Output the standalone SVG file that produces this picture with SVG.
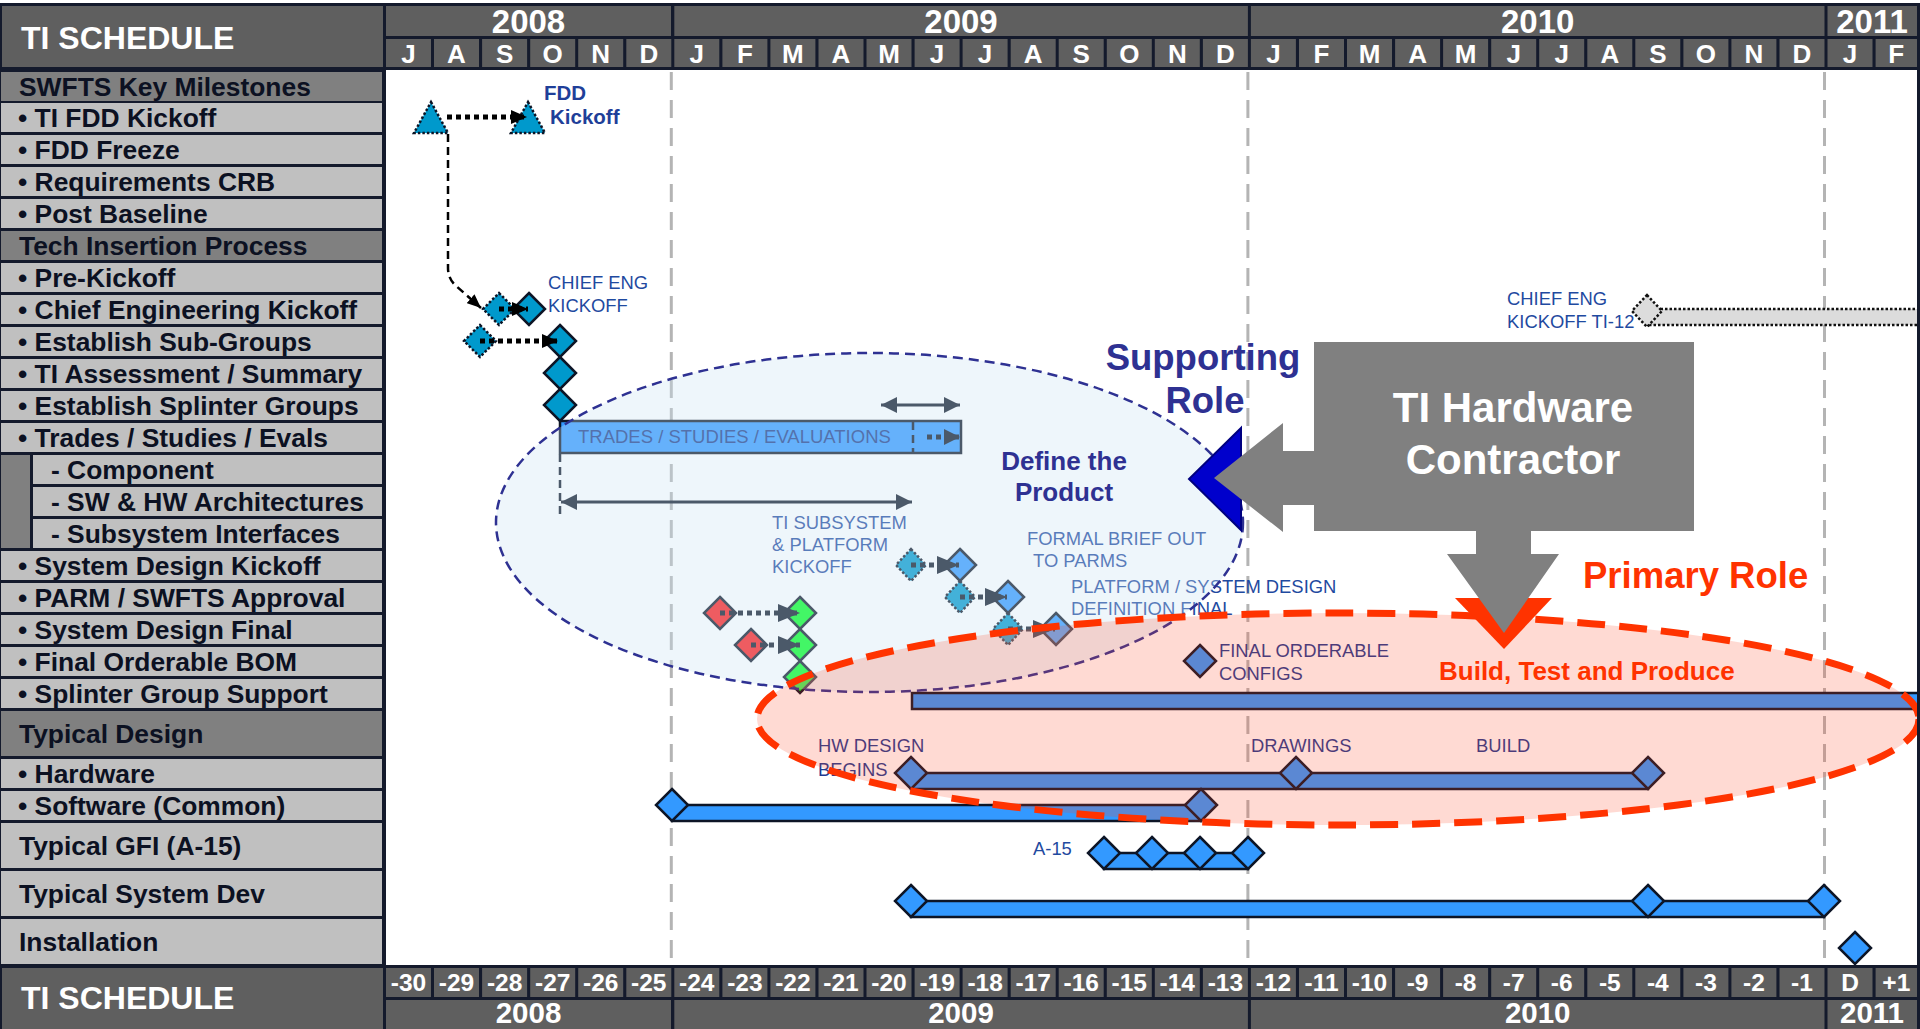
<svg xmlns="http://www.w3.org/2000/svg" width="1920" height="1029" viewBox="0 0 1920 1029">
<style>
text{font-family:"Liberation Sans",Arial,Helvetica,sans-serif}
.hc{fill:#5f5f5f}
.yt{fill:#fff;font-weight:bold;font-size:33px;text-anchor:middle}
.yb{fill:#fff;font-weight:bold;font-size:29.5px;text-anchor:middle}
.mt{fill:#fff;font-weight:bold;font-size:26px;text-anchor:middle}
.nt{fill:#fff;font-weight:bold;font-size:24.5px;text-anchor:middle}
.tt{fill:#fff;font-weight:bold;font-size:32px}
.sec{fill:#808080}
.itm{fill:#c0c0c0}
.lt{fill:#0c1122;font-weight:bold;font-size:26.4px}
.lbl{fill:#1f4aa0;font-size:18.4px}
.lbd{fill:#1f3a90;font-size:18.4px}
.grid{stroke:#b4b4b4;stroke-width:3;stroke-dasharray:18 10;fill:none}
.teal{fill:#0099cc;stroke:#0d1526;stroke-width:2.5}
.tealdot{fill:#0099cc;stroke:#0d1526;stroke-width:2.5;stroke-dasharray:2.5 2}
.blu{fill:#3399ff;stroke:#0d1526;stroke-width:2.5}
.red{fill:#ff1a1a;stroke:#0d1526;stroke-width:2.5}
.grn{fill:#00ff22;stroke:#0d1526;stroke-width:2.5}
.gry{fill:#dcdcdc;stroke:#111;stroke-width:2.5;stroke-dasharray:2.5 2}
.dotK{stroke:#000;stroke-width:5;stroke-dasharray:5 4;fill:none}
.dotN{stroke:#0d1526;stroke-width:5;stroke-dasharray:5 4;fill:none}
.dashK{stroke:#000;stroke-width:2.5;stroke-dasharray:8 5;fill:none}
.dashN{stroke:#0d1526;stroke-width:2.5;stroke-dasharray:8 5;fill:none}
.dbl{stroke:#0d1526;stroke-width:3;fill:none}
.callb{fill:#2e3192;font-weight:bold}
.callo{fill:#ff3300;font-weight:bold}
</style>
<defs>
<path id="dm" d="M0,-16L16,0L0,16L-16,0Z"/>
<path id="dms" d="M0,-16L15,0L0,16L-15,0Z"/>
<marker id="ahK" viewBox="0 0 16 14" markerWidth="16" markerHeight="14" refX="16" refY="7" orient="auto" markerUnits="userSpaceOnUse"><path d="M0,0L16,7L0,14Z" fill="#000"/></marker>
<marker id="ahKs" viewBox="0 0 14 12" markerWidth="14" markerHeight="12" refX="14" refY="6" orient="auto" markerUnits="userSpaceOnUse"><path d="M0,0L14,6L0,12Z" fill="#000"/></marker>
<marker id="ahN" viewBox="0 0 22 18" markerWidth="22" markerHeight="18" refX="22" refY="9" orient="auto" markerUnits="userSpaceOnUse"><path d="M0,0L22,9L0,18Z" fill="#0d1526"/></marker>
<marker id="ahD" viewBox="0 0 16 16" markerWidth="16" markerHeight="16" refX="16" refY="8" orient="auto-start-reverse" markerUnits="userSpaceOnUse"><path d="M0,0L16,8L0,16Z" fill="#0d1526"/></marker>
</defs>

<rect width="1920" height="1029" fill="#fff"/>

<g id="header-top">
<rect x="0" y="3" width="1920" height="67" fill="#141a2c"/>
<rect class="hc" x="2" y="6" width="381" height="61"/>
<text class="tt" x="21" y="49">TI SCHEDULE</text>
<rect class="hc" x="386" y="6" width="285" height="30"/>
<rect class="hc" x="674.3" y="6" width="573.6" height="30"/>
<rect class="hc" x="1250.9" y="6" width="573.6" height="30"/>
<rect class="hc" x="1827.5" y="6" width="89.5" height="30"/>
<text class="yt" x="528.5" y="33">2008</text>
<text class="yt" x="961" y="33">2009</text>
<text class="yt" x="1537.7" y="33">2010</text>
<text class="yt" x="1872" y="33">2011</text>
<g class="hc">
<rect x="386" y="39" width="45" height="28"/><rect x="434" y="39" width="45" height="28"/><rect x="482.1" y="39" width="45" height="28"/><rect x="530.2" y="39" width="45" height="28"/><rect x="578.2" y="39" width="45" height="28"/><rect x="626.3" y="39" width="45" height="28"/><rect x="674.3" y="39" width="45" height="28"/><rect x="722.4" y="39" width="45" height="28"/><rect x="770.4" y="39" width="45" height="28"/><rect x="818.5" y="39" width="45" height="28"/><rect x="866.5" y="39" width="45" height="28"/><rect x="914.6" y="39" width="45" height="28"/><rect x="962.6" y="39" width="45" height="28"/><rect x="1010.7" y="39" width="45" height="28"/><rect x="1058.7" y="39" width="45" height="28"/><rect x="1106.8" y="39" width="45" height="28"/><rect x="1154.8" y="39" width="45" height="28"/><rect x="1202.9" y="39" width="45" height="28"/><rect x="1250.9" y="39" width="45" height="28"/><rect x="1299" y="39" width="45" height="28"/><rect x="1347" y="39" width="45" height="28"/><rect x="1395.1" y="39" width="45" height="28"/><rect x="1443.1" y="39" width="45" height="28"/><rect x="1491.2" y="39" width="45" height="28"/><rect x="1539.2" y="39" width="45" height="28"/><rect x="1587.3" y="39" width="45" height="28"/><rect x="1635.3" y="39" width="45" height="28"/><rect x="1683.4" y="39" width="45" height="28"/><rect x="1731.4" y="39" width="45" height="28"/><rect x="1779.5" y="39" width="45" height="28"/><rect x="1827.5" y="39" width="45" height="28"/><rect x="1875.6" y="39" width="41.4" height="28"/>
</g>
<g class="mt">
<text x="408.5" y="63">J</text><text x="456.5" y="63">A</text><text x="504.6" y="63">S</text><text x="552.7" y="63">O</text><text x="600.7" y="63">N</text><text x="648.8" y="63">D</text><text x="696.8" y="63">J</text><text x="744.9" y="63">F</text><text x="792.9" y="63">M</text><text x="841" y="63">A</text><text x="889" y="63">M</text><text x="937.1" y="63">J</text><text x="985.1" y="63">J</text><text x="1033.2" y="63">A</text><text x="1081.2" y="63">S</text><text x="1129.3" y="63">O</text><text x="1177.3" y="63">N</text><text x="1225.4" y="63">D</text><text x="1273.4" y="63">J</text><text x="1321.5" y="63">F</text><text x="1369.5" y="63">M</text><text x="1417.6" y="63">A</text><text x="1465.6" y="63">M</text><text x="1513.7" y="63">J</text><text x="1561.7" y="63">J</text><text x="1609.8" y="63">A</text><text x="1657.8" y="63">S</text><text x="1705.9" y="63">O</text><text x="1753.9" y="63">N</text><text x="1802" y="63">D</text><text x="1850" y="63">J</text><text x="1896.3" y="63">F</text>
</g>
</g>

<g id="left-panel">
<rect x="0" y="69" width="386" height="897" fill="#141a2c"/>
<rect class="sec" x="1" y="72" width="381" height="29"/>
<rect class="itm" x="1" y="103" width="381" height="29"/>
<rect class="itm" x="1" y="135" width="381" height="29"/>
<rect class="itm" x="1" y="167" width="381" height="29"/>
<rect class="itm" x="1" y="199" width="381" height="29"/>
<rect class="sec" x="1" y="231" width="381" height="29"/>
<rect class="itm" x="1" y="263" width="381" height="29"/>
<rect class="itm" x="1" y="295" width="381" height="29"/>
<rect class="itm" x="1" y="327" width="381" height="29"/>
<rect class="itm" x="1" y="359" width="381" height="29"/>
<rect class="itm" x="1" y="391" width="381" height="29"/>
<rect class="itm" x="1" y="423" width="381" height="29"/>
<rect class="sec" x="1" y="455" width="29" height="93"/>
<rect class="itm" x="33" y="455" width="349" height="29"/>
<rect class="itm" x="33" y="487" width="349" height="29"/>
<rect class="itm" x="33" y="519" width="349" height="29"/>
<rect class="itm" x="1" y="551" width="381" height="29"/>
<rect class="itm" x="1" y="583" width="381" height="29"/>
<rect class="itm" x="1" y="615" width="381" height="29"/>
<rect class="itm" x="1" y="647" width="381" height="29"/>
<rect class="itm" x="1" y="679" width="381" height="29"/>
<rect class="sec" x="1" y="711" width="381" height="45"/>
<rect class="itm" x="1" y="759" width="381" height="29"/>
<rect class="itm" x="1" y="791" width="381" height="29"/>
<rect class="itm" x="1" y="823" width="381" height="45"/>
<rect class="itm" x="1" y="871" width="381" height="45"/>
<rect class="itm" x="1" y="919" width="381" height="45"/>
<g class="lt">
<text x="19" y="96">SWFTS Key Milestones</text>
<text x="18" y="127">• TI FDD Kickoff</text>
<text x="18" y="159">• FDD Freeze</text>
<text x="18" y="191">• Requirements CRB</text>
<text x="18" y="223">• Post Baseline</text>
<text x="19" y="255">Tech Insertion Process</text>
<text x="18" y="287">• Pre-Kickoff</text>
<text x="18" y="319">• Chief Engineering Kickoff</text>
<text x="18" y="351">• Establish Sub-Groups</text>
<text x="18" y="383">• TI Assessment / Summary</text>
<text x="18" y="415">• Establish Splinter Groups</text>
<text x="18" y="447">• Trades / Studies / Evals</text>
<text x="51" y="479">- Component</text>
<text x="51" y="511">- SW &amp; HW Architectures</text>
<text x="51" y="543">- Subsystem Interfaces</text>
<text x="18" y="575">• System Design Kickoff</text>
<text x="18" y="607">• PARM / SWFTS Approval</text>
<text x="18" y="639">• System Design Final</text>
<text x="18" y="671">• Final Orderable BOM</text>
<text x="18" y="703">• Splinter Group Support</text>
<text x="19" y="743">Typical Design</text>
<text x="18" y="783">• Hardware</text>
<text x="18" y="815">• Software (Common)</text>
<text x="19" y="855">Typical GFI (A-15)</text>
<text x="19" y="903">Typical System Dev</text>
<text x="19" y="951">Installation</text>
</g>
</g>

<g id="grid">
<line class="grid" x1="671.3" y1="72" x2="671.3" y2="964"/>
<line class="grid" x1="1247.9" y1="72" x2="1247.9" y2="964"/>
<line class="grid" x1="1824.5" y1="72" x2="1824.5" y2="964"/>
</g>

<g id="nodes">
<g id="fdd-kickoff">
<path class="tealdot" d="M431,102L448,133L414,133Z"/>
<path class="tealdot" d="M528,102L545,133L511,133Z"/>
<text x="544" y="100" fill="#1f3f99" font-weight="bold" font-size="20.5px">FDD</text>
<text x="550" y="124" fill="#1f3f99" font-weight="bold" font-size="20.5px">Kickoff</text>
</g>
<g id="chief-eng-kickoff">
<use href="#dm" class="tealdot" x="499" y="309"/>
<use href="#dm" class="teal" x="529" y="309"/>
<text class="lbl" x="548" y="289">CHIEF ENG</text>
<text class="lbl" x="548" y="312">KICKOFF</text>
</g>
<g id="sub-groups">
<use href="#dm" class="tealdot" x="480" y="341"/>
<use href="#dm" class="teal" x="560" y="341"/>
</g>
<g id="ti-assessment"><use href="#dm" class="teal" x="560" y="373"/></g>
<g id="splinter-groups"><use href="#dm" class="teal" x="560" y="405"/></g>
<g id="trades-bar">
<rect class="blu" x="560" y="421" width="401" height="32" stroke-width="2"/>
<text x="578" y="443" fill="#1a3a8a" font-size="18.5px">TRADES / STUDIES / EVALUATIONS</text>
</g>
<g id="subsystem-kickoff-label">
<text class="lbl" x="772" y="529">TI SUBSYSTEM</text>
<text class="lbl" x="772" y="551">&amp; PLATFORM</text>
<text class="lbl" x="772" y="573">KICKOFF</text>
</g>
<g id="system-design-kickoff">
<use href="#dms" class="tealdot" x="911" y="565"/>
<use href="#dm" class="blu" x="960" y="565"/>
</g>
<g id="parm-approval">
<use href="#dms" class="tealdot" x="960" y="597"/>
<use href="#dm" class="blu" x="1008" y="597"/>
</g>
<g id="system-design-final">
<use href="#dms" class="tealdot" x="1008" y="629"/>
<use href="#dm" class="blu" x="1056" y="629"/>
</g>
<g id="formal-brief-label">
<text class="lbl" x="1027" y="545">FORMAL BRIEF OUT</text>
<text class="lbl" x="1033" y="567">TO PARMS</text>
<text class="lbl" x="1071" y="593">PLATFORM / SYSTEM DESIGN</text>
<text class="lbl" x="1071" y="615">DEFINITION FINAL</text>
</g>
<g id="red-green-1">
<use href="#dm" class="red" x="720" y="613"/>
<use href="#dm" class="grn" x="800" y="613"/>
</g>
<g id="red-green-2">
<use href="#dm" class="red" x="751" y="645"/>
<use href="#dm" class="grn" x="800" y="645"/>
</g>
<g id="green-3"><use href="#dm" class="grn" x="800" y="677"/></g>
<g id="final-orderable">
<use href="#dm" class="blu" x="1200" y="661"/>
<text class="lbd" x="1219" y="657">FINAL ORDERABLE</text>
<text class="lbd" x="1219" y="680">CONFIGS</text>
</g>
<g id="splinter-support"><rect class="blu" x="912" y="693" width="1010" height="16"/></g>
<g id="hardware">
<rect class="blu" x="911" y="773" width="737" height="16"/>
<use href="#dm" class="blu" x="911" y="773"/>
<use href="#dm" class="blu" x="1296" y="773"/>
<use href="#dm" class="blu" x="1648" y="773"/>
<text class="lbd" x="818" y="752">HW DESIGN</text>
<text class="lbd" x="818" y="776">BEGINS</text>
<text class="lbd" x="1251" y="752">DRAWINGS</text>
<text class="lbd" x="1476" y="752">BUILD</text>
</g>
<g id="software">
<rect class="blu" x="672" y="805" width="529" height="16"/>
<use href="#dm" class="blu" x="672" y="805"/>
<use href="#dm" class="blu" x="1201" y="805"/>
</g>
<g id="gfi-a15">
<rect class="blu" x="1104" y="853" width="144" height="16"/>
<use href="#dm" class="blu" x="1104" y="853"/>
<use href="#dm" class="blu" x="1152" y="853"/>
<use href="#dm" class="blu" x="1200" y="853"/>
<use href="#dm" class="blu" x="1248" y="853"/>
<text class="lbl" x="1033" y="855">A-15</text>
</g>
<g id="system-dev">
<rect class="blu" x="911" y="901" width="913" height="16"/>
<use href="#dm" class="blu" x="911" y="901"/>
<use href="#dm" class="blu" x="1648" y="901"/>
<use href="#dm" class="blu" x="1824" y="901"/>
</g>
<g id="installation"><use href="#dm" class="blu" x="1855" y="948"/></g>
<g id="chief-eng-ti12">
<rect class="gry" x="1647" y="309" width="280" height="16"/>
<use href="#dms" class="gry" x="1647" y="311"/>
<text class="lbl" x="1507" y="305">CHIEF ENG</text>
<text class="lbl" x="1507" y="328">KICKOFF TI-12</text>
</g>
</g>

<g id="connectors">
<line class="dotK" x1="447" y1="117" x2="527" y2="117" marker-end="url(#ahK)"/>
<path class="dashK" d="M448,134V268Q448,278 455,285L481,308" marker-end="url(#ahKs)"/>
<line class="dotK" x1="499" y1="309" x2="528" y2="309" marker-end="url(#ahK)"/>
<line class="dotK" x1="480" y1="341" x2="558" y2="341" marker-end="url(#ahK)"/>
<line class="dotN" x1="911" y1="565" x2="959" y2="565" marker-end="url(#ahN)"/>
<line class="dotN" x1="960" y1="597" x2="1007" y2="597" marker-end="url(#ahN)"/>
<line class="dotN" x1="1008" y1="629" x2="1055" y2="629" marker-end="url(#ahN)"/>
<line class="dotN" x1="720" y1="613" x2="800" y2="613" marker-end="url(#ahN)"/>
<line class="dotN" x1="751" y1="645" x2="800" y2="645" marker-end="url(#ahN)"/>
<line class="dbl" x1="881" y1="405" x2="960" y2="405" marker-start="url(#ahD)" marker-end="url(#ahD)"/>
<line class="dbl" x1="561" y1="502" x2="912" y2="502" marker-start="url(#ahD)" marker-end="url(#ahD)"/>
<line class="dashN" x1="560" y1="454" x2="560" y2="516"/>
<line class="dashN" x1="913" y1="422" x2="913" y2="452" stroke-dasharray="6 4"/>
<line class="dotN" x1="927" y1="437" x2="960" y2="437" marker-end="url(#ahD)"/>
</g>

<g id="define-product-ellipse">
<ellipse cx="869.5" cy="522.5" rx="373.5" ry="169.5" fill="#cbe4f3" fill-opacity="0.33" stroke="#2e3192" stroke-width="2.5" stroke-dasharray="10 6"/>
</g>
<g id="build-ellipse">
<ellipse cx="1338" cy="719" rx="581" ry="106" fill="#ff4422" fill-opacity="0.2"/>
<ellipse cx="1338" cy="719" rx="581" ry="106" fill="none" stroke="#ff3300" stroke-width="7" stroke-dasharray="28 14"/>
</g>

<g id="contractor">
<path d="M1241,428L1189,479L1241,530Z" fill="#0000cc" stroke="#000080" stroke-width="2"/>
<path d="M1314,451H1283V423L1214,478L1283,532V505H1314Z" fill="#808080"/>
<path d="M1455,598L1504,649L1552,598Z" fill="#ff3300"/>
<path d="M1476,530H1531V554H1559L1504,633L1447,554H1476Z" fill="#808080"/>
<rect x="1314" y="342" width="380" height="189" fill="#808080"/>
<text x="1513" y="422" fill="#fff" font-weight="bold" font-size="42px" text-anchor="middle">TI Hardware</text>
<text x="1513" y="474" fill="#fff" font-weight="bold" font-size="42px" text-anchor="middle">Contractor</text>
</g>
<g id="callout-labels">
<text class="callb" x="1203" y="370" font-size="36.5px" text-anchor="middle">Supporting</text>
<text class="callb" x="1205" y="413" font-size="36.5px" text-anchor="middle">Role</text>
<text class="callb" x="1064" y="470" font-size="26px" text-anchor="middle">Define the</text>
<text class="callb" x="1064" y="501" font-size="26px" text-anchor="middle">Product</text>
<text class="callo" x="1583" y="588" font-size="36.5px">Primary Role</text>
<text class="callo" x="1439" y="680" font-size="26px">Build, Test and Produce</text>
</g>

<rect x="1917" y="67" width="3" height="901" fill="#141a2c"/>

<g id="header-bottom">
<rect x="0" y="965" width="1920" height="64" fill="#141a2c"/>
<rect class="hc" x="2" y="968" width="381" height="61"/>
<text class="tt" x="21" y="1009">TI SCHEDULE</text>
<g class="hc">
<rect x="386" y="968" width="45" height="29"/><rect x="434" y="968" width="45" height="29"/><rect x="482.1" y="968" width="45" height="29"/><rect x="530.2" y="968" width="45" height="29"/><rect x="578.2" y="968" width="45" height="29"/><rect x="626.3" y="968" width="45" height="29"/><rect x="674.3" y="968" width="45" height="29"/><rect x="722.4" y="968" width="45" height="29"/><rect x="770.4" y="968" width="45" height="29"/><rect x="818.5" y="968" width="45" height="29"/><rect x="866.5" y="968" width="45" height="29"/><rect x="914.6" y="968" width="45" height="29"/><rect x="962.6" y="968" width="45" height="29"/><rect x="1010.7" y="968" width="45" height="29"/><rect x="1058.7" y="968" width="45" height="29"/><rect x="1106.8" y="968" width="45" height="29"/><rect x="1154.8" y="968" width="45" height="29"/><rect x="1202.9" y="968" width="45" height="29"/><rect x="1250.9" y="968" width="45" height="29"/><rect x="1299" y="968" width="45" height="29"/><rect x="1347" y="968" width="45" height="29"/><rect x="1395.1" y="968" width="45" height="29"/><rect x="1443.1" y="968" width="45" height="29"/><rect x="1491.2" y="968" width="45" height="29"/><rect x="1539.2" y="968" width="45" height="29"/><rect x="1587.3" y="968" width="45" height="29"/><rect x="1635.3" y="968" width="45" height="29"/><rect x="1683.4" y="968" width="45" height="29"/><rect x="1731.4" y="968" width="45" height="29"/><rect x="1779.5" y="968" width="45" height="29"/><rect x="1827.5" y="968" width="45" height="29"/><rect x="1875.6" y="968" width="41.4" height="29"/>
<rect x="386" y="1000" width="285" height="29"/>
<rect x="674.3" y="1000" width="573.6" height="29"/>
<rect x="1250.9" y="1000" width="573.6" height="29"/>
<rect x="1827.5" y="1000" width="89.5" height="29"/>
</g>
<g class="nt">
<text x="408.5" y="990.5">-30</text><text x="456.5" y="990.5">-29</text><text x="504.6" y="990.5">-28</text><text x="552.7" y="990.5">-27</text><text x="600.7" y="990.5">-26</text><text x="648.8" y="990.5">-25</text><text x="696.8" y="990.5">-24</text><text x="744.9" y="990.5">-23</text><text x="792.9" y="990.5">-22</text><text x="841" y="990.5">-21</text><text x="889" y="990.5">-20</text><text x="937.1" y="990.5">-19</text><text x="985.1" y="990.5">-18</text><text x="1033.2" y="990.5">-17</text><text x="1081.2" y="990.5">-16</text><text x="1129.3" y="990.5">-15</text><text x="1177.3" y="990.5">-14</text><text x="1225.4" y="990.5">-13</text><text x="1273.4" y="990.5">-12</text><text x="1321.5" y="990.5">-11</text><text x="1369.5" y="990.5">-10</text><text x="1417.6" y="990.5">-9</text><text x="1465.6" y="990.5">-8</text><text x="1513.7" y="990.5">-7</text><text x="1561.7" y="990.5">-6</text><text x="1609.8" y="990.5">-5</text><text x="1657.8" y="990.5">-4</text><text x="1705.9" y="990.5">-3</text><text x="1753.9" y="990.5">-2</text><text x="1802" y="990.5">-1</text><text x="1850" y="990.5">D</text><text x="1896.3" y="990.5">+1</text>
</g>
<text class="yb" x="528.5" y="1022.5">2008</text>
<text class="yb" x="961" y="1022.5">2009</text>
<text class="yb" x="1537.7" y="1022.5">2010</text>
<text class="yb" x="1872" y="1022.5">2011</text>
</g>
</svg>
